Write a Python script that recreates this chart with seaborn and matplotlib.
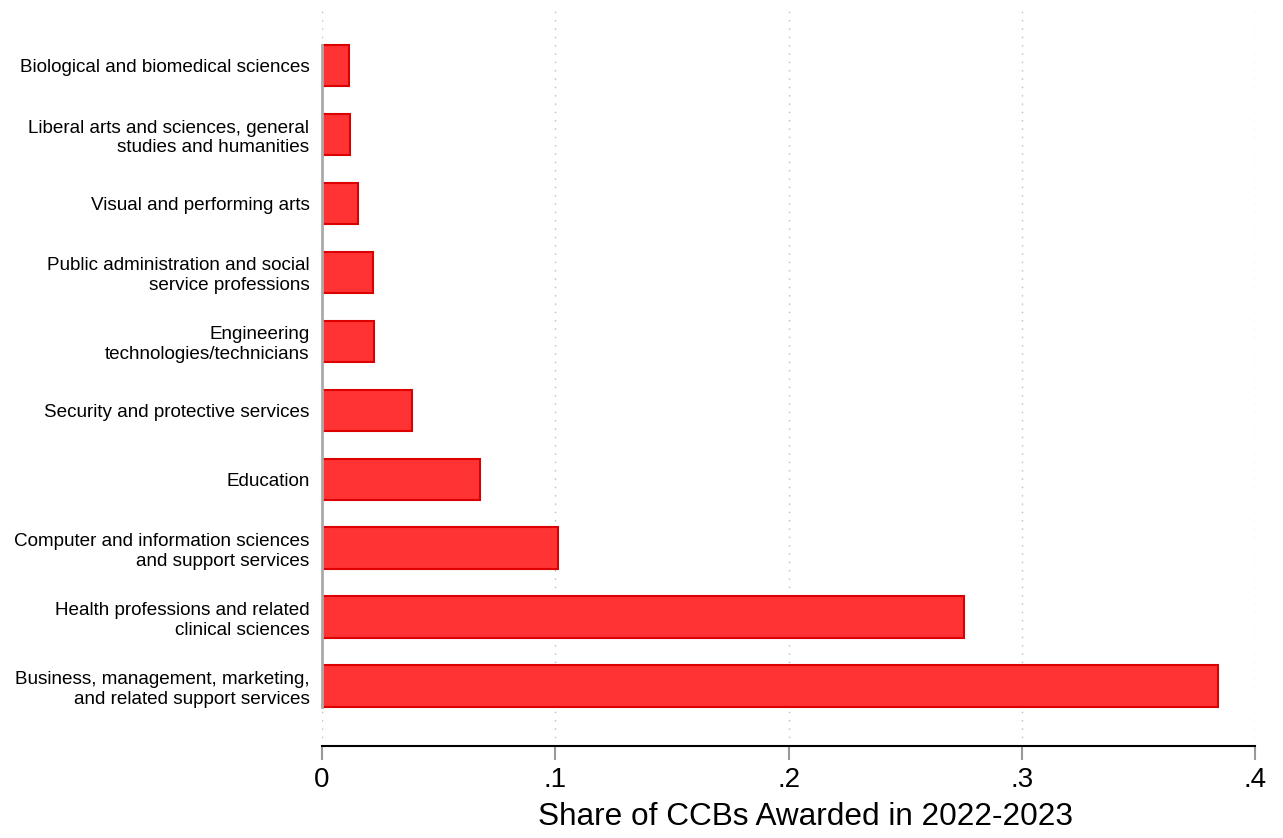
import matplotlib
matplotlib.use("Agg")
import matplotlib.pyplot as plt
import seaborn as sns
import pandas as pd

# Datos
categorias = [
    "Biological and biomedical sciences",
    "Liberal arts and sciences, general\nstudies and humanities",
    "Visual and performing arts",
    "Public administration and social\nservice professions",
    "Engineering\ntechnologies/technicians",
    "Security and protective services",
    "Education",
    "Computer and information sciences\nand support services",
    "Health professions and related\nclinical sciences",
    "Business, management, marketing,\nand related support services",
]
shares = [0.0116, 0.0120, 0.0154, 0.0219, 0.0223, 0.0386, 0.0677, 0.1012, 0.2752, 0.3841]
ticks = [0, 0.1, 0.2, 0.3, 0.4]
tick_labels = ["0", ".1", ".2", ".3", ".4"]

df = pd.DataFrame({"cat": categorias, "share": shares})

sns.set_style("white")
plt.rcParams['font.family'] = ['Liberation Sans', 'DejaVu Sans']
plt.rcParams['text.color'] = 'black'
plt.rcParams['xtick.color'] = 'black'
plt.rcParams['ytick.color'] = 'black'
plt.rcParams['axes.labelcolor'] = 'black'

fig = plt.figure(figsize=(12.83, 8.38), dpi=100)
ax = fig.add_axes([322 / 1283, (838 - 746) / 838, (1255 - 322) / 1283, (746 - 5) / 838])

sns.barplot(data=df, x="share", y="cat", orient="h", color="#FF3333",
            edgecolor="#DD0000", linewidth=1.5, width=0.6, saturation=1, ax=ax)

# Rejilla punteada
for t in ticks:
    ax.axvline(t, color="#BBBBBB", linestyle=(0, (1, 5)), linewidth=1, zorder=0)

ax.set_xlim(0, 0.4)
ax.set_ylim(len(categorias) - 1 + 0.87, -0.88)
ax.set_xticks(ticks)
ax.set_xticklabels(tick_labels, fontsize=20)
ax.tick_params(axis="x", bottom=True, direction="out", length=10, width=1.5,
               color="#999999", labelcolor="black", pad=5)
ax.tick_params(axis="y", left=False, length=0, pad=9, labelsize=13.6, labelcolor="black")
ax.set_xlabel("Share of CCBs Awarded in 2022-2023", fontsize=22.7, color="black")
ax.xaxis.set_label_coords(0.518, -0.076)
ax.set_ylabel("")

for s in ["top", "right"]:
    ax.spines[s].set_visible(False)
ax.spines["bottom"].set_color("black")
ax.spines["bottom"].set_linewidth(1.5)
ax.spines["left"].set_color("#AAAAAA")
ax.spines["left"].set_linewidth(2)
ax.spines["left"].set_bounds(len(categorias) - 1 + 0.3, -0.3)

fig.savefig("out.png", dpi=100)
